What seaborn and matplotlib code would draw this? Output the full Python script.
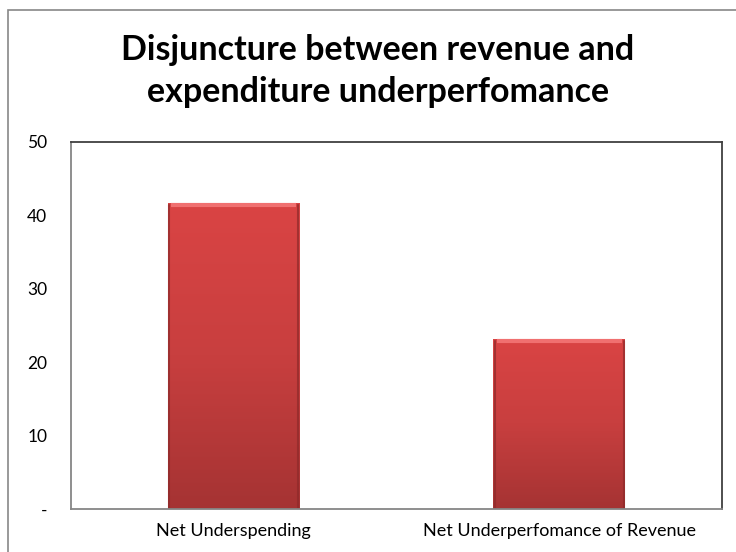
import numpy as np
import pandas as pd
import matplotlib
matplotlib.use("Agg")
import matplotlib.pyplot as plt
import seaborn as sns
from matplotlib.colors import LinearSegmentedColormap
from matplotlib.patches import Rectangle
from matplotlib.lines import Line2D

categories = ["Net Underspending", "Net Underperfomance of Revenue"]
values = [41.7, 23.2]
yticks = [0, 10, 20, 30, 40, 50]
yticklabels = ["-", "10", "20", "30", "40", "50"]
title = "Disjuncture between revenue and\nexpenditure underperfomance"

sns.set_theme(style="white")
plt.rcParams['font.family'] = ['Lato', 'DejaVu Sans']

fig = plt.figure(figsize=(7.36, 5.52), dpi=100)
ax = fig.add_axes([71/736, 43/552, 651/736, 367/552])

df = pd.DataFrame({"cat": categories, "val": values})
sns.barplot(data=df, x="cat", y="val", ax=ax, width=0.404, color="#c83c3c",
            saturation=1, edgecolor="none", linewidth=0)

ax.set_ylim(0, 50)
ax.set_yticks(yticks)
ax.set_yticklabels(yticklabels)
ax.set_xlabel("")
ax.set_ylabel("")
ax.tick_params(axis="y", length=0, pad=17, labelsize=12.5, labelcolor="#000000")
ax.tick_params(axis="x", length=0, pad=10, labelsize=13, labelcolor="#000000")

for side in ["left", "bottom"]:
    ax.spines[side].set_color("#868686")
    ax.spines[side].set_linewidth(1.3)
for side in ["top", "right"]:
    ax.spines[side].set_color("#404040")
    ax.spines[side].set_linewidth(1.3)

# gradient fill for bars
cmap = LinearSegmentedColormap.from_list("bar", ["#a53333", "#c83f3f", "#da4444"])
grad = np.linspace(0, 1, 256).reshape(-1, 1)
for p in list(ax.patches):
    x0, w, h = p.get_x(), p.get_width(), p.get_height()
    im = ax.imshow(grad, extent=[x0, x0 + w, 0, h], origin="lower", cmap=cmap,
                   aspect="auto", zorder=p.get_zorder() + 0.1)
    im.set_clip_path(p)
    ax.add_line(Line2D([x0 + 0.01, x0 + w - 0.01], [h - 0.25, h - 0.25], color="#f07070",
                       lw=3, zorder=p.get_zorder() + 0.2, solid_capstyle="butt"))
    ax.add_line(Line2D([x0 + 0.004, x0 + 0.004], [0, h - 0.3], color="#8e2a2a",
                       lw=1.5, alpha=0.7, zorder=p.get_zorder() + 0.2))
    ax.add_line(Line2D([x0 + w - 0.004, x0 + w - 0.004], [0, h - 0.3], color="#8e2a2a",
                       lw=1.5, alpha=0.7, zorder=p.get_zorder() + 0.2))
ax.set_xlim(-0.5, 1.5)

fig.text(0.513, 1 - 71/552, title, ha="center", va="center",
         fontsize=24.5, fontweight="bold", color="#000000", linespacing=1.38)

fig.patches.append(Rectangle((8/736, -0.05), 1.1, 1.05 - 10/552, transform=fig.transFigure,
                             fill=False, edgecolor="#888888", linewidth=1.2))

fig.savefig("out.png", dpi=100)
